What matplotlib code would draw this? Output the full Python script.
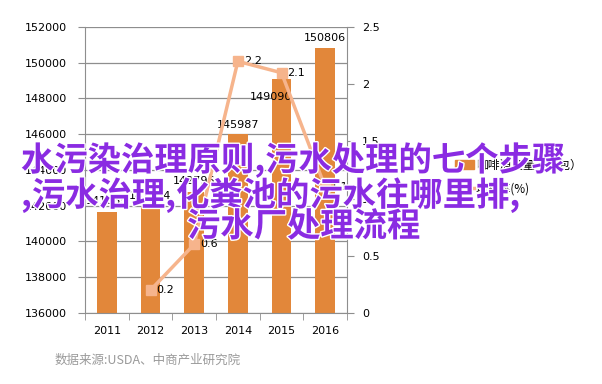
import matplotlib.pyplot as plt
import matplotlib.patheffects as pe
from matplotlib.patches import Patch
from matplotlib.lines import Line2D
import numpy as np

plt.rcParams['font.family'] = ['DejaVu Sans', 'Noto Sans CJK SC']

# data
years = ['2011', '2012', '2013', '2014', '2015', '2016']
consumption = [141665, 141954, 142796, 145987, 149090, 150806]
growth = [np.nan, 0.2, 0.6, 2.2, 2.1, 1.1]
growth_labels = ['', '0.2', '0.6', '2.2', '2.1', '1.1']
left_ticks = [136000, 138000, 140000, 142000, 144000, 146000, 148000, 150000, 152000]
right_ticks = [0, 0.5, 1, 1.5, 2, 2.5]
right_tick_labels = ['0', '0.5', '1', '1.5', '2', '2.5']

bar_color = '#E2873A'
line_color = '#F6B48C'
grid_color = '#8E8E8E'

fig = plt.figure(figsize=(6.02, 3.84), dpi=100)
ax = fig.add_axes([85 / 602, 1 - 313 / 384, 262 / 602, 286 / 384])
x = np.arange(len(years))

ax.bar(x, consumption, width=0.45, color=bar_color, zorder=2)
ax.set_xlim(-0.5, 5.5)
ax.set_ylim(136000, 152000)
ax.set_yticks(left_ticks)
ax.set_yticklabels([str(v) for v in left_ticks], fontsize=8)
ax.yaxis.grid(True, color=grid_color, linewidth=0.9, zorder=0)
ax.set_axisbelow(True)
ax.set_xticks(x)
ax.set_xticklabels(years, fontsize=8)
ax.set_xticks(np.arange(-0.5, 6, 1), minor=True)
ax.tick_params(axis='x', which='major', length=0, pad=9)
ax.tick_params(axis='x', which='minor', length=5, color=grid_color, direction='out')
ax.tick_params(axis='y', length=5, color=grid_color, pad=8)
for s in ['top', 'right']:
    ax.spines[s].set_visible(False)
for s in ['left', 'bottom']:
    ax.spines[s].set_color(grid_color)

# bar value labels (placement as in the original)
bar_lab_dx = [0, 0, 0, 0, -0.25, 0]
bar_lab_dy = [300, 300, 300, 250, -1300, 300]
for i, v in enumerate(consumption):
    ax.text(x[i] + bar_lab_dx[i], v + bar_lab_dy[i], str(v), ha='center', va='bottom',
            fontsize=8, zorder=5)

ax2 = ax.twinx()
ax2.set_ylim(0, 2.5)
ax2.set_yticks(right_ticks)
ax2.set_yticklabels(right_tick_labels, fontsize=8)
ax2.tick_params(axis='y', length=5, color=grid_color, pad=6)
for s in ['top', 'left', 'bottom']:
    ax2.spines[s].set_visible(False)
ax2.spines['right'].set_color(grid_color)
ax2.plot(x, growth, color=line_color, linewidth=2.5, marker='s', markersize=7, zorder=4)
for i, v in enumerate(growth):
    if growth_labels[i]:
        ax2.text(x[i] + 0.14, v, growth_labels[i], ha='left', va='center', fontsize=8)

# legend
handles = [Patch(color=bar_color), Line2D([], [], color=line_color, linewidth=2.5, marker='s', markersize=6)]
labels = ['咖啡消费量（千包）', '增长率(%)']
fig.legend(handles, labels, loc='center left', bbox_to_anchor=(444 / 602, 1 - 177 / 384),
           frameon=False, prop={'family': ['Noto Sans CJK SC'], 'size': 8.5},
           handlelength=1.6, handletextpad=0.2, labelspacing=0.9)

# source note
fig.text(55 / 602, 1 - 360 / 384, '数据来源:USDA、中商产业研究院', fontsize=9, color='#9A9A9A',
         family=['Noto Sans CJK SC'], va='center', ha='left')

# overlay title
title_lines = ['水污染治理原则,污水处理的七个步骤', ',污水治理,化粪池的污水往哪里排,', '污水厂处理流程']
title_x = [21, 21, 187]
title_y = [160, 195, 227]
for t, tx, ty in zip(title_lines, title_x, title_y):
    fig.text(tx / 602, 1 - ty / 384, t, fontsize=24, color='#8A2BE2', fontweight='bold',
             family=['Noto Sans CJK SC'], ha='left', va='center', zorder=10,
             path_effects=[pe.withStroke(linewidth=2, foreground='white')])

fig.savefig('out.png', dpi=100)
